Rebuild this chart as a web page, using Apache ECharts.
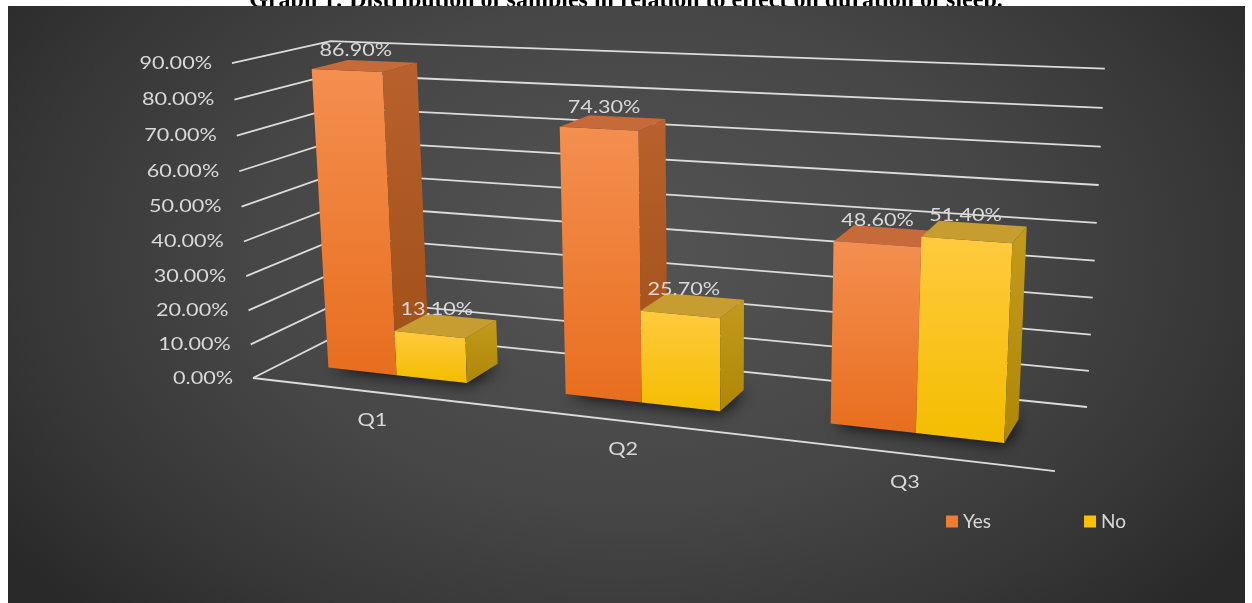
<!DOCTYPE html>
<html>
<head>
<meta charset="utf-8">
<title>Graph 1</title>
<script src="https://cdn.jsdelivr.net/npm/echarts@6/dist/echarts.min.js"></script>
<style>
  html, body { margin: 0; padding: 0; background: #fff; }
  #chart { width: 1252px; height: 603px; }
</style>
</head>
<body>
<div id="chart"></div>
<script>
// data
var categories = ['Q1', 'Q2', 'Q3'];
var seriesNames = ['Yes', 'No'];
var yesValues = [0.869, 0.743, 0.486];
var noValues = [0.131, 0.257, 0.514];
var yTicks = [0, 0.1, 0.2, 0.3, 0.4, 0.5, 0.6, 0.7, 0.8, 0.9];
var yTickLabels = ['0.00%', '10.00%', '20.00%', '30.00%', '40.00%', '50.00%', '60.00%', '70.00%', '80.00%', '90.00%'];

// 3D view used for the Excel-like perspective.
// world X: 0..1 along the category axis, Y: 0..1 up the value axis, Z: 0..1 from the floor front to the back wall
var VIEW = [
  [633.5, -31.0, 123.9, 253],
  [17.8, -317.5, -17.5, 378],
  [-0.1597, -0.043, 0.0892, 1]
];
var BAR_Z0 = 0.31, BAR_Z1 = 0.69;
var TEXT = '#d9d9d9';
var FONT = '18px Lato';
var STRETCH = 1.2; // text in the picture is stretched sideways

function project(X, Y, Z) {
  var w = VIEW[2][0] * X + VIEW[2][1] * Y + VIEW[2][2] * Z + VIEW[2][3];
  return [
    (VIEW[0][0] * X + VIEW[0][1] * Y + VIEW[0][2] * Z + VIEW[0][3]) / w,
    (VIEW[1][0] * X + VIEW[1][1] * Y + VIEW[1][2] * Z + VIEW[1][3]) / w
  ];
}
function worldX(cs, px) { return (px - cs.x) / cs.width; }
function worldY(cs, py) { return (cs.y + cs.height - py) / cs.height; }
function fmt(v) { return (v * 100).toFixed(2) + '%'; }

// top colour first
function lin(c1, c2) {
  return new echarts.graphic.LinearGradient(0, 0, 0, 1, [
    { offset: 0, color: c1 },
    { offset: 1, color: c2 }
  ]);
}

var barColors = [
  { base: '#ED7D31', front: ['#f48f50', '#e86e1e'], side: ['#b8612e', '#a04e16'], top: '#c56a38' },
  { base: '#FFC000', front: ['#ffca3e', '#f3bd00'], side: ['#c39a1c', '#ae8708'], top: '#c79c30' }
];

// back wall + left wall gridlines and the value labels
function renderGrid(params, api) {
  var cs = params.coordSys;
  var k = api.value(0);
  var Y = worldY(cs, api.coord([0, yTicks[k]])[1]);
  var a = project(0, Y, 0), b = project(0, Y, 1), c = project(1, Y, 1);
  var lineStyle = { stroke: '#dcdcdc', lineWidth: 1.8, fill: null };
  var children = [
    { type: 'polyline', shape: { points: [a, b, c] }, style: lineStyle },
    {
      type: 'text', x: a[0] - 20, y: a[1], scaleX: STRETCH,
      style: { text: yTickLabels[k], fill: TEXT, font: FONT, align: 'right', verticalAlign: 'middle' }
    }
  ];
  if (k === 0) {
    var e = project(1, 0, 0);
    children.push({ type: 'line', shape: { x1: a[0], y1: a[1], x2: e[0], y2: e[1] }, style: lineStyle });
  }
  return { type: 'group', children: children };
}

// category names under the floor edge
function renderCategory(params, api) {
  var cs = params.coordSys;
  var i = api.value(0);
  var p = project(worldX(cs, api.coord([i, 0])[0]), 0, 0);
  return {
    type: 'text', x: p[0] + 4, y: p[1] + 29, scaleX: STRETCH,
    style: { text: categories[i], fill: TEXT, font: FONT, align: 'center', verticalAlign: 'middle' }
  };
}

// soft floor shadow under each group of bars
function renderShadow(params, api) {
  var cs = params.coordSys;
  var i = api.value(0);
  var base = api.coord([i, 0]);
  var bw = api.size([1, 0])[0] / 3.35;
  var x0 = worldX(cs, base[0] - bw) + 0.002, x1 = worldX(cs, base[0] + bw) - 0.002;
  var z0 = BAR_Z0 + 0.01, z1 = BAR_Z1;
  return {
    type: 'polygon',
    shape: { points: [project(x0, 0, z0), project(x1, 0, z0), project(x1, 0, z1), project(x0, 0, z1)] },
    style: { fill: 'rgba(0,0,0,0.9)', shadowBlur: 16, shadowOffsetX: 3, shadowOffsetY: 2, shadowColor: 'rgba(0,0,0,0.95)' }
  };
}

function barRenderer(s) {
  return function (params, api) {
    var cs = params.coordSys;
    var i = api.value(0), v = api.value(1);
    var base = api.coord([i, 0]);
    var bw = api.size([1, 0])[0] / 3.35;
    var left = s === 0 ? base[0] - bw : base[0];
    var x0 = worldX(cs, left), x1 = worldX(cs, left + bw);
    var y = worldY(cs, api.coord([i, v])[1]);
    var z0 = BAR_Z0, z1 = BAR_Z1;
    var col = barColors[s];
    var lp = project((x0 + x1) / 2, y, (z0 + z1) / 2);
    return {
      type: 'group',
      children: [
        {
          type: 'polygon',
          shape: { points: [project(x0, 0, z0), project(x1, 0, z0), project(x1, y, z0), project(x0, y, z0)] },
          style: { fill: lin(col.front[0], col.front[1]) }
        },
        {
          type: 'polygon',
          shape: { points: [project(x1, 0, z0), project(x1, 0, z1), project(x1, y, z1), project(x1, y, z0)] },
          style: { fill: lin(col.side[0], col.side[1]) }
        },
        {
          type: 'polygon',
          shape: { points: [project(x0, y, z0), project(x1, y, z0), project(x1, y, z1), project(x0, y, z1)] },
          style: { fill: col.top }
        },
        {
          type: 'text', x: lp[0] - 9, y: lp[1] - 16, scaleX: STRETCH, z2: 10,
          style: { text: fmt(v), fill: TEXT, font: FONT, align: 'center', verticalAlign: 'middle' }
        }
      ]
    };
  };
}

var chart = echarts.init(document.getElementById('chart'));
var option = {
  animation: false,
  title: {
    text: 'Graph 1: Distribution of samples in relation to effect on duration of sleep.',
    left: 'center',
    top: -16,
    z: 0,
    textStyle: { fontFamily: 'Liberation Serif', fontWeight: 'bold', fontSize: 24, color: '#000' }
  },
  graphic: [{
    type: 'rect', z: 1, silent: true,
    x: 8, y: 6, scaleX: 1.5,
    shape: { x: 0, y: 0, width: 1237 / 1.5, height: 597 },
    style: {
      fill: new echarts.graphic.RadialGradient(0.5, 0.42, 0.85, [
        { offset: 0, color: '#545454' },
        { offset: 0.5, color: '#464646' },
        { offset: 0.8, color: '#363636' },
        { offset: 1, color: '#292929' }
      ])
    }
  }],
  legend: {
    data: seriesNames,
    left: 941,
    top: 507,
    icon: 'rect',
    itemWidth: 12,
    itemHeight: 12,
    itemGap: 93,
    selectedMode: false,
    textStyle: { color: TEXT, fontSize: 19, fontFamily: 'Lato' }
  },
  grid: { left: 0, right: 0, top: 0, bottom: 0, show: false },
  xAxis: { type: 'category', data: categories, show: false },
  yAxis: { type: 'value', min: 0, max: 0.9, interval: 0.1, show: false },
  series: [
    { type: 'custom', name: 'grid', silent: true, z: 3, renderItem: renderGrid,
      data: yTicks.map(function (t, k) { return [k, t]; }) },
    { type: 'custom', name: 'categories', silent: true, z: 3, renderItem: renderCategory,
      data: categories.map(function (c, i) { return [i, 0]; }) },
    { type: 'custom', name: 'shadow', silent: true, z: 3, renderItem: renderShadow,
      data: categories.map(function (c, i) { return [i, 0]; }) },
    { type: 'custom', name: seriesNames[0], silent: true, z: 4, renderItem: barRenderer(0),
      itemStyle: { color: barColors[0].base },
      data: yesValues.map(function (v, i) { return [i, v]; }) },
    { type: 'custom', name: seriesNames[1], silent: true, z: 4, renderItem: barRenderer(1),
      itemStyle: { color: barColors[1].base },
      data: noValues.map(function (v, i) { return [i, v]; }) }
  ]
};
chart.setOption(option);
</script>
</body>
</html>
